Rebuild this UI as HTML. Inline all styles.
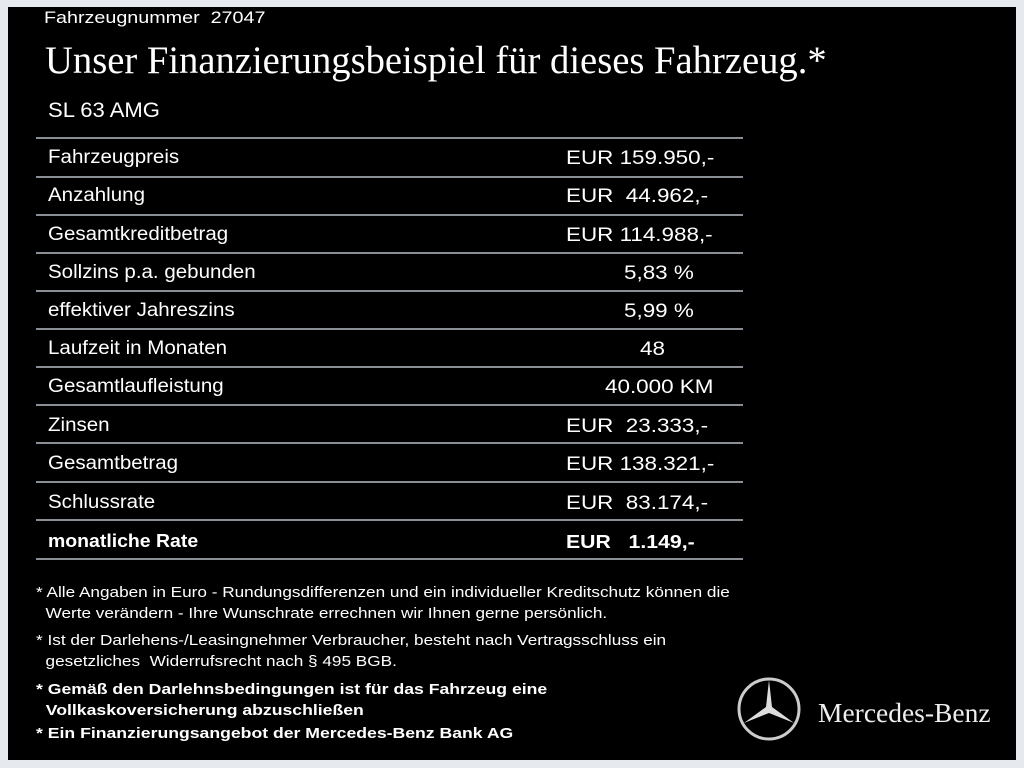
<!DOCTYPE html>
<html><head><meta charset="utf-8"><style>
body{margin:0;width:1024px;height:768px;background:#e6eaef;position:relative;overflow:hidden;font-family:"Liberation Sans",sans-serif;color:#fff}
#b{position:absolute;left:8px;top:7px;width:1008px;height:753px;background:#000}
.a{position:absolute;white-space:nowrap;transform-origin:left top}
.l{position:absolute;left:36px;width:707px;height:2px;background:#8a8f96}
.r{font-size:19px;transform:scaleX(1.08)}
.v{font-size:19px;transform:scaleX(1.18)}
.n{font-size:15px;line-height:21px;transform:scaleX(1.145)}
.nb{font-size:15px;line-height:21px;font-weight:bold;transform:scaleX(1.175)}
</style></head><body><div id="b"></div>
<div class="a" style="left:44px;top:8px;font-size:17px;transform:scaleX(1.16)">Fahrzeugnummer&nbsp; 27047</div>
<div class="a" style="left:45px;top:38px;font-family:'Liberation Serif',serif;font-size:39px;transform:scaleX(0.99)">Unser Finanzierungsbeispiel für dieses Fahrzeug.*</div>
<div class="a" style="left:48px;top:99px;font-size:21px;transform:scaleX(1.05)">SL 63 AMG</div>
<div class="l" style="top:137px"></div><div class="l" style="top:176px"></div><div class="l" style="top:214px"></div><div class="l" style="top:252px"></div><div class="l" style="top:290px"></div><div class="l" style="top:328px"></div><div class="l" style="top:366px"></div><div class="l" style="top:404px"></div><div class="l" style="top:442px"></div><div class="l" style="top:481px"></div><div class="l" style="top:519px"></div><div class="l" style="top:558px"></div>
<div class="a r" style="left:48px;top:147px">Fahrzeugpreis</div><div class="a v" style="left:566px;top:148px">EUR 159.950,-</div>
<div class="a r" style="left:48px;top:185px">Anzahlung</div><div class="a v" style="left:566px;top:186px">EUR&nbsp; 44.962,-</div>
<div class="a r" style="left:48px;top:224px">Gesamtkreditbetrag</div><div class="a v" style="left:566px;top:225px">EUR 114.988,-</div>
<div class="a r" style="left:48px;top:262px">Sollzins p.a. gebunden</div><div class="a v" style="left:624px;top:263px">5,83 %</div>
<div class="a r" style="left:48px;top:300px">effektiver Jahreszins</div><div class="a v" style="left:624px;top:301px">5,99 %</div>
<div class="a r" style="left:48px;top:338px">Laufzeit in Monaten</div><div class="a v" style="left:640px;top:339px">48</div>
<div class="a r" style="left:48px;top:376px">Gesamtlaufleistung</div><div class="a v" style="left:605px;top:377px">40.000 KM</div>
<div class="a r" style="left:48px;top:415px">Zinsen</div><div class="a v" style="left:566px;top:416px">EUR&nbsp; 23.333,-</div>
<div class="a r" style="left:48px;top:453px">Gesamtbetrag</div><div class="a v" style="left:566px;top:454px">EUR 138.321,-</div>
<div class="a r" style="left:48px;top:492px">Schlussrate</div><div class="a v" style="left:566px;top:493px">EUR&nbsp; 83.174,-</div>
<div class="a r" style="left:48px;top:531px;font-weight:bold;font-size:18px">monatliche Rate</div><div class="a v" style="left:566px;top:532px;font-weight:bold;font-size:18px">EUR&nbsp;&nbsp; 1.149,-</div>
<div class="a n" style="left:36px;top:582px">* Alle Angaben in Euro - Rundungsdifferenzen und ein individueller Kreditschutz können die<br>&nbsp;&nbsp;Werte verändern - Ihre Wunschrate errechnen wir Ihnen gerne persönlich.</div>
<div class="a n" style="left:36px;top:630px">* Ist der Darlehens-/Leasingnehmer Verbraucher, besteht nach Vertragsschluss ein<br>&nbsp;&nbsp;gesetzliches&nbsp; Widerrufsrecht nach § 495 BGB.</div>
<div class="a nb" style="left:36px;top:679px">* Gemäß den Darlehnsbedingungen ist für das Fahrzeug eine<br>&nbsp;&nbsp;Vollkaskoversicherung abzuschließen</div>
<div class="a nb" style="left:36px;top:723px">* Ein Finanzierungsangebot der Mercedes-Benz Bank AG</div>
<svg class="a" style="left:736px;top:676px" width="66" height="66" viewBox="-33 -33 66 66"><circle r="30" fill="none" stroke="#ccc" stroke-width="3"/><polygon points="0,-29 3,-2 25,14 0,4 -25,14 -3,-2" fill="#ddd"/></svg>
<div class="a" style="left:818px;top:697px;font-family:'Liberation Serif',serif;font-size:27.5px;color:#eee">Mercedes-Benz</div>
</body></html>
